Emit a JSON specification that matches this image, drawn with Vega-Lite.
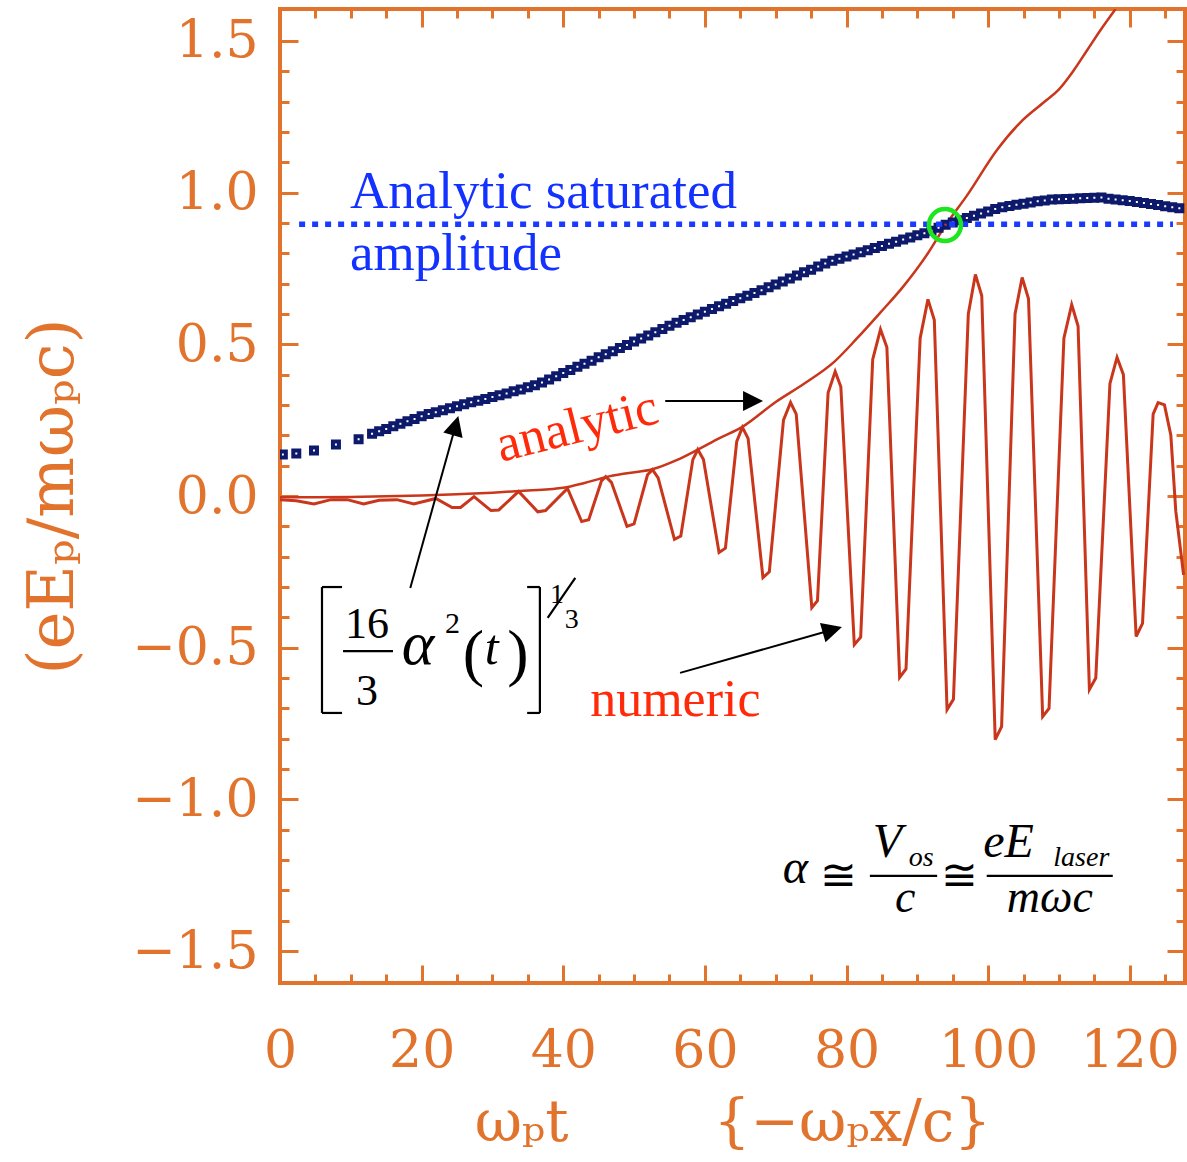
{
  "$schema": "https://vega.github.io/schema/vega-lite/v6.json",
  "width": 905,
  "height": 974,
  "autosize": {"type": "none"},
  "padding": {"left": 280, "top": 9, "right": 2, "bottom": 179},
  "background": "white",
  "config": {
    "view": {"stroke": "#e2732d", "strokeWidth": 4},
    "axis": {
      "domain": false, "grid": false,
      "tickColor": "#e2732d", "tickWidth": 3,
      "labelColor": "#e2732d", "titleColor": "#e2732d",
      "labelFont": "DejaVu Serif", "titleFont": "DejaVu Serif",
      "labelFontSize": 52, "titleFontSize": 58, "titleFontWeight": "normal"
    }
  },
  "datasets": {
    "numeric": [
      {"x":0,"y":-0.012},{"x":2.3,"y":-0.016},{"x":4.8,"y":-0.026},{"x":7.2,"y":-0.012},{"x":9.5,"y":-0.012},{"x":11.8,"y":-0.026},{"x":14,"y":-0.014},{"x":16.5,"y":-0.012},{"x":18.9,"y":-0.026},{"x":22,"y":-0.008},
      {"x":24.3,"y":-0.038},{"x":25.5,"y":-0.038},{"x":27.4,"y":-0.002},{"x":29.8,"y":-0.048},{"x":30.9,"y":-0.046},{"x":33.7,"y":0.015},{"x":36.4,"y":-0.052},{"x":37.5,"y":-0.048},{"x":40.6,"y":0.025},
      {"x":42.6,"y":-0.084},{"x":43.6,"y":-0.078},{"x":45.4,"y":0.05},{"x":46.0,"y":0.064},{"x":46.8,"y":0.045},
      {"x":49.0,"y":-0.10},{"x":50.0,"y":-0.092},{"x":51.9,"y":0.07},{"x":52.6,"y":0.087},{"x":53.4,"y":0.06},
      {"x":55.7,"y":-0.143},{"x":56.6,"y":-0.132},{"x":58.3,"y":0.12},{"x":59.0,"y":0.153},{"x":59.8,"y":0.12},
      {"x":62.0,"y":-0.186},{"x":62.9,"y":-0.172},{"x":64.5,"y":0.18},{"x":65.3,"y":0.226},{"x":66.1,"y":0.19},
      {"x":68.2,"y":-0.269},{"x":69.1,"y":-0.25},{"x":71.1,"y":0.25},{"x":72.1,"y":0.308},{"x":72.9,"y":0.27},
      {"x":75.1,"y":-0.368},{"x":75.9,"y":-0.345},{"x":77.4,"y":0.34},{"x":78.4,"y":0.41},{"x":79.2,"y":0.36},
      {"x":81.1,"y":-0.49},{"x":82.0,"y":-0.465},{"x":83.7,"y":0.45},{"x":84.8,"y":0.549},{"x":85.7,"y":0.49},
      {"x":87.5,"y":-0.598},{"x":88.4,"y":-0.57},{"x":90.4,"y":0.52},{"x":91.5,"y":0.648},{"x":92.4,"y":0.58},
      {"x":94.2,"y":-0.704},{"x":95.1,"y":-0.67},{"x":97.2,"y":0.6},{"x":98.2,"y":0.73},{"x":99.1,"y":0.66},
      {"x":101.0,"y":-0.803},{"x":101.9,"y":-0.76},{"x":103.8,"y":0.6},{"x":104.8,"y":0.72},{"x":105.7,"y":0.65},
      {"x":107.7,"y":-0.727},{"x":108.6,"y":-0.70},{"x":110.7,"y":0.52},{"x":111.8,"y":0.631},{"x":112.7,"y":0.56},
      {"x":114.3,"y":-0.638},{"x":115.2,"y":-0.60},{"x":117.2,"y":0.37},{"x":118.2,"y":0.457},{"x":119.1,"y":0.40},
      {"x":120.9,"y":-0.463},{"x":121.8,"y":-0.42},{"x":123.3,"y":0.27},{"x":124.0,"y":0.308},{"x":124.9,"y":0.30},
      {"x":125.8,"y":0.2},{"x":126.5,"y":-0.05},{"x":127.6,"y":-0.26}
    ],
    "analytic": [
      {"x":0,"y":-0.004},{"x":5,"y":-0.004},{"x":10,"y":-0.003},{"x":15,"y":-0.001},{"x":20,"y":0.002},{"x":25,"y":0.006},{"x":30,"y":0.011},{"x":35,"y":0.018},{"x":40,"y":0.027},{"x":43,"y":0.043},{"x":46,"y":0.062},{"x":49,"y":0.075},{"x":52.6,"y":0.088},{"x":56,"y":0.118},{"x":59,"y":0.153},{"x":62,"y":0.19},{"x":65.3,"y":0.228},{"x":70,"y":0.31},{"x":74,"y":0.37},{"x":78.3,"y":0.443},{"x":81.5,"y":0.52},{"x":84.8,"y":0.605},{"x":88,"y":0.69},{"x":91.5,"y":0.8},{"x":94,"y":0.893},{"x":97,"y":0.99},{"x":101.3,"y":1.142},{"x":104.5,"y":1.23},{"x":108,"y":1.30},{"x":110,"y":1.34},{"x":112,"y":1.40},{"x":114,"y":1.47},{"x":116,"y":1.54},{"x":118,"y":1.605}
    ],
    "fit": [
      {"x":0.4,"y":0.137},{"x":2.3,"y":0.140},{"x":4.8,"y":0.150},{"x":7.9,"y":0.170},{"x":11.1,"y":0.187},
      {"x":13,"y":0.205},{"x":14,"y":0.213},{"x":15,"y":0.221},{"x":16,"y":0.230},{"x":17,"y":0.238},{"x":18,"y":0.246},{"x":19,"y":0.254},{"x":20,"y":0.263},{"x":21,"y":0.270},{"x":22,"y":0.276},{"x":23,"y":0.283},{"x":24,"y":0.289},{"x":25,"y":0.296},{"x":26,"y":0.302},{"x":27,"y":0.309},{"x":28,"y":0.314},{"x":29,"y":0.320},{"x":30,"y":0.326},{"x":31,"y":0.332},{"x":32,"y":0.338},{"x":33,"y":0.345},{"x":34,"y":0.351},{"x":35,"y":0.358},{"x":36,"y":0.365},{"x":37,"y":0.374},{"x":38,"y":0.384},{"x":39,"y":0.395},{"x":40,"y":0.405},{"x":41,"y":0.415},{"x":42,"y":0.426},{"x":43,"y":0.436},{"x":44,"y":0.446},{"x":45,"y":0.457},{"x":46,"y":0.467},{"x":47,"y":0.477},{"x":48,"y":0.488},{"x":49,"y":0.498},{"x":50,"y":0.509},{"x":51,"y":0.519},{"x":52,"y":0.529},{"x":53,"y":0.540},{"x":54,"y":0.550},{"x":55,"y":0.561},{"x":56,"y":0.571},{"x":57,"y":0.580},{"x":58,"y":0.589},{"x":59,"y":0.598},{"x":60,"y":0.607},{"x":61,"y":0.616},{"x":62,"y":0.625},{"x":63,"y":0.634},{"x":64,"y":0.643},{"x":65,"y":0.652},{"x":66,"y":0.660},{"x":67,"y":0.669},{"x":68,"y":0.678},{"x":69,"y":0.688},{"x":70,"y":0.697},{"x":71,"y":0.707},{"x":72,"y":0.717},{"x":73,"y":0.727},{"x":74,"y":0.737},{"x":75,"y":0.746},{"x":76,"y":0.756},{"x":77,"y":0.766},{"x":78,"y":0.775},{"x":79,"y":0.782},{"x":80,"y":0.789},{"x":81,"y":0.796},{"x":82,"y":0.803},{"x":83,"y":0.810},{"x":84,"y":0.817},{"x":85,"y":0.824},{"x":86,"y":0.831},{"x":87,"y":0.838},{"x":88,"y":0.845},{"x":89,"y":0.852},{"x":90,"y":0.859},{"x":91,"y":0.866},{"x":92,"y":0.874},{"x":93,"y":0.884},{"x":94,"y":0.894},{"x":95,"y":0.901},{"x":96,"y":0.909},{"x":97,"y":0.916},{"x":98,"y":0.924},{"x":99,"y":0.931},{"x":100,"y":0.938},{"x":101,"y":0.946},{"x":102,"y":0.952},{"x":103,"y":0.956},{"x":104,"y":0.960},{"x":105,"y":0.963},{"x":106,"y":0.967},{"x":107,"y":0.971},{"x":108,"y":0.974},{"x":109,"y":0.977},{"x":110,"y":0.978},{"x":111,"y":0.979},{"x":112,"y":0.980},{"x":113,"y":0.981},{"x":114,"y":0.982},{"x":115,"y":0.983},{"x":116,"y":0.984},{"x":117,"y":0.980},{"x":118,"y":0.977},{"x":119,"y":0.975},{"x":120,"y":0.972},{"x":121,"y":0.969},{"x":122,"y":0.966},{"x":123,"y":0.962},{"x":124,"y":0.959},{"x":125,"y":0.955},{"x":126,"y":0.952},{"x":127,"y":0.948}
    ],
    "saturation": [{"x":2.7,"y":0.896},{"x":126.1,"y":0.896}],
    "crossing": [{"x":93.9,"y":0.893}],
    "segments": [
      {"x":5.93,"y":-0.300,"x2":5.93,"y2":-0.715},
      {"x":5.93,"y":-0.300,"x2":8.76,"y2":-0.300},
      {"x":5.93,"y":-0.715,"x2":8.76,"y2":-0.715},
      {"x":36.7,"y":-0.300,"x2":36.7,"y2":-0.715},
      {"x":34.9,"y":-0.300,"x2":36.7,"y2":-0.300},
      {"x":34.9,"y":-0.715,"x2":36.7,"y2":-0.715},
      {"x":8.90,"y":-0.511,"x2":15.96,"y2":-0.511},
      {"x":37.8,"y":-0.402,"x2":41.7,"y2":-0.270},
      {"x":83.3,"y":-1.252,"x2":92.8,"y2":-1.252},
      {"x":99.8,"y":-1.252,"x2":117.6,"y2":-1.252}
    ],
    "shafts": [
      {"x":54.4,"y":0.313,"x2":66.8,"y2":0.313},
      {"x":56.5,"y":-0.583,"x2":78.0,"y2":-0.441},
      {"x":18.4,"y":-0.303,"x2":24.8,"y2":0.232}
    ],
    "heads": [
      {"arrow":"analytic","x":66.8,"y":0.313},
      {"arrow":"numeric","x":78.0,"y":-0.441},
      {"arrow":"formula","x":24.8,"y":0.232}
    ],
    "notes": [
      {"part":"saturation label","text":"Analytic saturated","x":9.88,"y":0.949},
      {"part":"saturation label","text":"amplitude","x":9.88,"y":0.745},
      {"part":"analytic label","text":"analytic","x":42.5,"y":0.178},
      {"part":"numeric label","text":"numeric","x":43.8,"y":-0.725},
      {"part":"growth numerals","text":"16","x":12.3,"y":-0.468},
      {"part":"growth numerals","text":"3","x":12.3,"y":-0.689},
      {"part":"growth alpha","text":"α","x":17.2,"y":-0.554},
      {"part":"growth square","text":"2","x":23.3,"y":-0.451},
      {"part":"growth parens","text":"(","x":25.8,"y":-0.587},
      {"part":"growth parens","text":")","x":32.1,"y":-0.587},
      {"part":"growth t","text":"t","x":29.9,"y":-0.554},
      {"part":"growth power","text":"1","x":39.1,"y":-0.353},
      {"part":"growth power","text":"3","x":41.2,"y":-0.435},
      {"part":"alpha main","text":"α","x":71.0,"y":-1.275},
      {"part":"alpha main","text":"V","x":83.7,"y":-1.190},
      {"part":"alpha main","text":"eE","x":99.3,"y":-1.190},
      {"part":"alpha approx","text":"≅","x":78.8,"y":-1.256},
      {"part":"alpha approx","text":"≅","x":96.0,"y":-1.256},
      {"part":"alpha sub","text":"os","x":88.8,"y":-1.219},
      {"part":"alpha sub","text":"laser","x":109.2,"y":-1.219},
      {"part":"alpha denom","text":"c","x":88.3,"y":-1.372},
      {"part":"alpha denom","text":"mωc","x":108.7,"y":-1.372}
    ]
  },
  "resolve": {"axis": {"x": "independent", "y": "independent"}},
  "layer": [
    {
      "data": {"name": "numeric"},
      "mark": {"type": "line", "color": "#c9361b", "strokeWidth": 3, "clip": true},
      "encoding": {
        "x": {"field": "x", "type": "quantitative", "scale": {"domain": [0, 127.8], "nice": false, "zero": false},
              "axis": {"orient": "bottom", "values": [0,20,40,60,80,100,120], "format": "d", "tickSize": -18, "labelPadding": 60, "labelFlush": false, "title": "ωₚt\u2003\u2003\u2002{−ωₚx/c}", "titlePadding": 18}},
        "y": {"field": "y", "type": "quantitative", "scale": {"domain": [-1.605, 1.605], "nice": false, "zero": false},
              "axis": {"orient": "left", "values": [-1.5,-1,-0.5,0,0.5,1,1.5], "format": ".1f", "tickSize": -18, "labelPadding": 40, "title": "(eEₚ/mωₚc)", "titleFontSize": 64, "titlePadding": 46}}
      }
    },
    {
      "data": {"name": "analytic"},
      "mark": {"type": "line", "color": "#c9361b", "strokeWidth": 2.5, "interpolate": "monotone", "clip": true},
      "encoding": {
        "x": {"field": "x", "type": "quantitative", "scale": {"domain": [0, 127.8], "nice": false, "zero": false},
              "axis": {"orient": "bottom", "values": [0,5,10,15,20,25,30,35,40,45,50,55,60,65,70,75,80,85,90,95,100,105,110,115,120,125], "tickSize": -9, "labels": false, "title": null}},
        "y": {"field": "y", "type": "quantitative", "scale": {"domain": [-1.605, 1.605], "nice": false, "zero": false},
              "axis": {"orient": "left", "values": [-1.5,-1.4,-1.3,-1.2,-1.1,-1,-0.9,-0.8,-0.7,-0.6,-0.5,-0.4,-0.3,-0.2,-0.1,0,0.1,0.2,0.3,0.4,0.5,0.6,0.7,0.8,0.9,1,1.1,1.2,1.3,1.4,1.5], "tickSize": -9, "labels": false, "title": null}}
      }
    },
    {
      "data": {"name": "fit"},
      "mark": {"type": "point", "shape": "square", "filled": false, "stroke": "#0d1a6b", "strokeWidth": 4, "size": 36, "opacity": 1, "clip": true},
      "encoding": {
        "x": {"field": "x", "type": "quantitative", "scale": {"domain": [0, 127.8], "nice": false, "zero": false},
              "axis": {"orient": "top", "values": [0,20,40,60,80,100,120], "tickSize": -18, "labels": false, "title": null}},
        "y": {"field": "y", "type": "quantitative", "scale": {"domain": [-1.605, 1.605], "nice": false, "zero": false},
              "axis": {"orient": "right", "values": [-1.5,-1,-0.5,0,0.5,1,1.5], "tickSize": -18, "labels": false, "title": null}}
      }
    },
    {
      "data": {"name": "saturation"},
      "mark": {"type": "line", "color": "#1a3bff", "strokeWidth": 5.5, "strokeDash": [6, 7], "strokeCap": "butt"},
      "encoding": {
        "x": {"field": "x", "type": "quantitative", "scale": {"domain": [0, 127.8], "nice": false, "zero": false},
              "axis": {"orient": "top", "values": [0,5,10,15,20,25,30,35,40,45,50,55,60,65,70,75,80,85,90,95,100,105,110,115,120,125], "tickSize": -9, "labels": false, "title": null}},
        "y": {"field": "y", "type": "quantitative", "scale": {"domain": [-1.605, 1.605], "nice": false, "zero": false},
              "axis": {"orient": "right", "values": [-1.5,-1.4,-1.3,-1.2,-1.1,-1,-0.9,-0.8,-0.7,-0.6,-0.5,-0.4,-0.3,-0.2,-0.1,0,0.1,0.2,0.3,0.4,0.5,0.6,0.7,0.8,0.9,1,1.1,1.2,1.3,1.4,1.5], "tickSize": -9, "labels": false, "title": null}}
      }
    },
    {
      "data": {"name": "crossing"},
      "mark": {"type": "point", "shape": "circle", "filled": false, "stroke": "#1ee61e", "strokeWidth": 4.5, "size": 1024, "opacity": 1},
      "encoding": {
        "x": {"field": "x", "type": "quantitative", "scale": {"domain": [0, 127.8], "nice": false, "zero": false}, "axis": null},
        "y": {"field": "y", "type": "quantitative", "scale": {"domain": [-1.605, 1.605], "nice": false, "zero": false}, "axis": null}
      }
    },
    {
      "data": {"name": "segments"},
      "mark": {"type": "rule", "color": "black", "strokeWidth": 2.2},
      "encoding": {
        "x": {"field": "x", "type": "quantitative", "scale": {"domain": [0, 127.8], "nice": false, "zero": false}, "axis": null},
        "y": {"field": "y", "type": "quantitative", "scale": {"domain": [-1.605, 1.605], "nice": false, "zero": false}, "axis": null},
        "x2": {"field": "x2"},
        "y2": {"field": "y2"}
      }
    },
    {
      "data": {"name": "shafts"},
      "mark": {"type": "rule", "color": "black", "strokeWidth": 2},
      "encoding": {
        "x": {"field": "x", "type": "quantitative", "scale": {"domain": [0, 127.8], "nice": false, "zero": false}, "axis": null},
        "y": {"field": "y", "type": "quantitative", "scale": {"domain": [-1.605, 1.605], "nice": false, "zero": false}, "axis": null},
        "x2": {"field": "x2"},
        "y2": {"field": "y2"}
      }
    },
    {
      "data": {"name": "heads"},
      "transform": [{"filter": "datum.arrow == 'analytic'"}],
      "mark": {"type": "point", "shape": "M-1,-1L1,0L-1,1Z", "filled": true, "color": "black", "size": 400, "opacity": 1, "angle": 0},
      "encoding": {
        "x": {"field": "x", "type": "quantitative", "scale": {"domain": [0, 127.8], "nice": false, "zero": false}, "axis": null},
        "y": {"field": "y", "type": "quantitative", "scale": {"domain": [-1.605, 1.605], "nice": false, "zero": false}, "axis": null}
      }
    },
    {
      "data": {"name": "heads"},
      "transform": [{"filter": "datum.arrow == 'numeric'"}],
      "mark": {"type": "point", "shape": "M-1,-1L1,0L-1,1Z", "filled": true, "color": "black", "size": 400, "opacity": 1, "angle": -16},
      "encoding": {
        "x": {"field": "x", "type": "quantitative", "scale": {"domain": [0, 127.8], "nice": false, "zero": false}, "axis": null},
        "y": {"field": "y", "type": "quantitative", "scale": {"domain": [-1.605, 1.605], "nice": false, "zero": false}, "axis": null}
      }
    },
    {
      "data": {"name": "heads"},
      "transform": [{"filter": "datum.arrow == 'formula'"}],
      "mark": {"type": "point", "shape": "M-1,-1L1,0L-1,1Z", "filled": true, "color": "black", "size": 400, "opacity": 1, "angle": -74.5},
      "encoding": {
        "x": {"field": "x", "type": "quantitative", "scale": {"domain": [0, 127.8], "nice": false, "zero": false}, "axis": null},
        "y": {"field": "y", "type": "quantitative", "scale": {"domain": [-1.605, 1.605], "nice": false, "zero": false}, "axis": null}
      }
    },
    {
      "data": {"name": "notes"},
      "transform": [{"filter": "datum.part == 'saturation label'"}],
      "mark": {"type": "text", "font": "Liberation Serif", "fontSize": 53, "color": "#1432ff", "align": "left", "baseline": "alphabetic"},
      "encoding": {
        "x": {"field": "x", "type": "quantitative", "scale": {"domain": [0, 127.8], "nice": false, "zero": false}, "axis": null},
        "y": {"field": "y", "type": "quantitative", "scale": {"domain": [-1.605, 1.605], "nice": false, "zero": false}, "axis": null},
        "text": {"field": "text"}
      }
    },
    {
      "data": {"name": "notes"},
      "transform": [{"filter": "datum.part == 'analytic label'"}],
      "mark": {"type": "text", "font": "Liberation Serif", "fontSize": 52, "color": "#ff2a0a", "align": "center", "baseline": "alphabetic", "angle": -14},
      "encoding": {
        "x": {"field": "x", "type": "quantitative", "scale": {"domain": [0, 127.8], "nice": false, "zero": false}, "axis": null},
        "y": {"field": "y", "type": "quantitative", "scale": {"domain": [-1.605, 1.605], "nice": false, "zero": false}, "axis": null},
        "text": {"field": "text"}
      }
    },
    {
      "data": {"name": "notes"},
      "transform": [{"filter": "datum.part == 'numeric label'"}],
      "mark": {"type": "text", "font": "Liberation Serif", "fontSize": 52, "color": "#ff2a0a", "align": "left", "baseline": "alphabetic"},
      "encoding": {
        "x": {"field": "x", "type": "quantitative", "scale": {"domain": [0, 127.8], "nice": false, "zero": false}, "axis": null},
        "y": {"field": "y", "type": "quantitative", "scale": {"domain": [-1.605, 1.605], "nice": false, "zero": false}, "axis": null},
        "text": {"field": "text"}
      }
    },
    {
      "data": {"name": "notes"},
      "transform": [{"filter": "datum.part == 'growth numerals'"}],
      "mark": {"type": "text", "font": "Liberation Serif", "fontSize": 44, "color": "black", "align": "center", "baseline": "alphabetic"},
      "encoding": {
        "x": {"field": "x", "type": "quantitative", "scale": {"domain": [0, 127.8], "nice": false, "zero": false}, "axis": null},
        "y": {"field": "y", "type": "quantitative", "scale": {"domain": [-1.605, 1.605], "nice": false, "zero": false}, "axis": null},
        "text": {"field": "text"}
      }
    },
    {
      "data": {"name": "notes"},
      "transform": [{"filter": "datum.part == 'growth alpha'"}],
      "mark": {"type": "text", "font": "Liberation Serif", "fontStyle": "italic", "fontSize": 62, "color": "black", "align": "left", "baseline": "alphabetic"},
      "encoding": {
        "x": {"field": "x", "type": "quantitative", "scale": {"domain": [0, 127.8], "nice": false, "zero": false}, "axis": null},
        "y": {"field": "y", "type": "quantitative", "scale": {"domain": [-1.605, 1.605], "nice": false, "zero": false}, "axis": null},
        "text": {"field": "text"}
      }
    },
    {
      "data": {"name": "notes"},
      "transform": [{"filter": "datum.part == 'growth square'"}],
      "mark": {"type": "text", "font": "Liberation Serif", "fontSize": 30, "color": "black", "align": "left", "baseline": "alphabetic"},
      "encoding": {
        "x": {"field": "x", "type": "quantitative", "scale": {"domain": [0, 127.8], "nice": false, "zero": false}, "axis": null},
        "y": {"field": "y", "type": "quantitative", "scale": {"domain": [-1.605, 1.605], "nice": false, "zero": false}, "axis": null},
        "text": {"field": "text"}
      }
    },
    {
      "data": {"name": "notes"},
      "transform": [{"filter": "datum.part == 'growth parens'"}],
      "mark": {"type": "text", "font": "Liberation Serif", "fontSize": 64, "color": "black", "align": "left", "baseline": "alphabetic"},
      "encoding": {
        "x": {"field": "x", "type": "quantitative", "scale": {"domain": [0, 127.8], "nice": false, "zero": false}, "axis": null},
        "y": {"field": "y", "type": "quantitative", "scale": {"domain": [-1.605, 1.605], "nice": false, "zero": false}, "axis": null},
        "text": {"field": "text"}
      }
    },
    {
      "data": {"name": "notes"},
      "transform": [{"filter": "datum.part == 'growth t'"}],
      "mark": {"type": "text", "font": "Liberation Serif", "fontStyle": "italic", "fontSize": 50, "color": "black", "align": "center", "baseline": "alphabetic"},
      "encoding": {
        "x": {"field": "x", "type": "quantitative", "scale": {"domain": [0, 127.8], "nice": false, "zero": false}, "axis": null},
        "y": {"field": "y", "type": "quantitative", "scale": {"domain": [-1.605, 1.605], "nice": false, "zero": false}, "axis": null},
        "text": {"field": "text"}
      }
    },
    {
      "data": {"name": "notes"},
      "transform": [{"filter": "datum.part == 'growth power'"}],
      "mark": {"type": "text", "font": "Liberation Serif", "fontSize": 28, "color": "black", "align": "center", "baseline": "alphabetic"},
      "encoding": {
        "x": {"field": "x", "type": "quantitative", "scale": {"domain": [0, 127.8], "nice": false, "zero": false}, "axis": null},
        "y": {"field": "y", "type": "quantitative", "scale": {"domain": [-1.605, 1.605], "nice": false, "zero": false}, "axis": null},
        "text": {"field": "text"}
      }
    },
    {
      "data": {"name": "notes"},
      "transform": [{"filter": "datum.part == 'alpha main'"}],
      "mark": {"type": "text", "font": "Liberation Serif", "fontStyle": "italic", "fontSize": 48, "color": "black", "align": "left", "baseline": "alphabetic"},
      "encoding": {
        "x": {"field": "x", "type": "quantitative", "scale": {"domain": [0, 127.8], "nice": false, "zero": false}, "axis": null},
        "y": {"field": "y", "type": "quantitative", "scale": {"domain": [-1.605, 1.605], "nice": false, "zero": false}, "axis": null},
        "text": {"field": "text"}
      }
    },
    {
      "data": {"name": "notes"},
      "transform": [{"filter": "datum.part == 'alpha approx'"}],
      "mark": {"type": "text", "font": "Liberation Serif, DejaVu Serif", "fontSize": 44, "color": "black", "align": "center", "baseline": "middle"},
      "encoding": {
        "x": {"field": "x", "type": "quantitative", "scale": {"domain": [0, 127.8], "nice": false, "zero": false}, "axis": null},
        "y": {"field": "y", "type": "quantitative", "scale": {"domain": [-1.605, 1.605], "nice": false, "zero": false}, "axis": null},
        "text": {"field": "text"}
      }
    },
    {
      "data": {"name": "notes"},
      "transform": [{"filter": "datum.part == 'alpha sub'"}],
      "mark": {"type": "text", "font": "Liberation Serif", "fontStyle": "italic", "fontSize": 28, "color": "black", "align": "left", "baseline": "alphabetic"},
      "encoding": {
        "x": {"field": "x", "type": "quantitative", "scale": {"domain": [0, 127.8], "nice": false, "zero": false}, "axis": null},
        "y": {"field": "y", "type": "quantitative", "scale": {"domain": [-1.605, 1.605], "nice": false, "zero": false}, "axis": null},
        "text": {"field": "text"}
      }
    },
    {
      "data": {"name": "notes"},
      "transform": [{"filter": "datum.part == 'alpha denom'"}],
      "mark": {"type": "text", "font": "Liberation Serif", "fontStyle": "italic", "fontSize": 46, "color": "black", "align": "center", "baseline": "alphabetic"},
      "encoding": {
        "x": {"field": "x", "type": "quantitative", "scale": {"domain": [0, 127.8], "nice": false, "zero": false}, "axis": null},
        "y": {"field": "y", "type": "quantitative", "scale": {"domain": [-1.605, 1.605], "nice": false, "zero": false}, "axis": null},
        "text": {"field": "text"}
      }
    }
  ]
}
